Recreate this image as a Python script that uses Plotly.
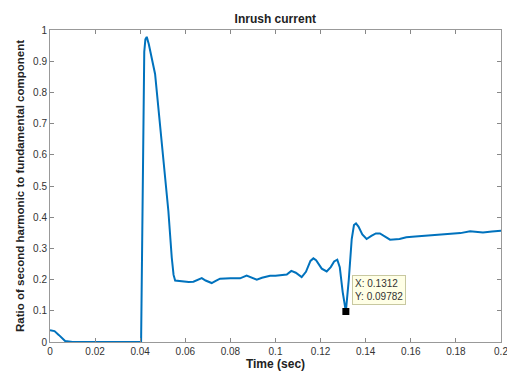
import plotly.graph_objects as go

time_s = [0, 0.002, 0.004, 0.0067, 0.01, 0.02, 0.03, 0.0404, 0.0418, 0.0423, 0.0429, 0.0438,
          0.0466, 0.0495, 0.0525, 0.054, 0.0548, 0.0555, 0.058, 0.0615, 0.0636, 0.0655, 0.0673,
          0.069, 0.0717, 0.0735, 0.0754, 0.08, 0.0843, 0.0872, 0.0895, 0.0917, 0.094, 0.0976,
          0.1, 0.103, 0.105, 0.107, 0.109, 0.1116, 0.1135, 0.1155, 0.1168, 0.118, 0.1205, 0.1227,
          0.1245, 0.126, 0.1274, 0.1285, 0.1298, 0.1312, 0.1325, 0.1338, 0.1348, 0.1357, 0.1368,
          0.1385, 0.1404, 0.1425, 0.1445, 0.1463, 0.1485, 0.1508, 0.155, 0.158, 0.162, 0.1655,
          0.1715, 0.1774, 0.182, 0.1863, 0.192, 0.196, 0.2]
ratio = [0.038, 0.035, 0.022, 0.003, 0, 0, 0, 0, 0.93, 0.97, 0.978, 0.955, 0.859, 0.644, 0.419,
         0.27, 0.215, 0.197, 0.194, 0.192, 0.193, 0.2, 0.205, 0.197, 0.189, 0.196, 0.203, 0.204,
         0.204, 0.213, 0.206, 0.2, 0.206, 0.212, 0.212, 0.213, 0.216, 0.228, 0.222, 0.208, 0.225,
         0.26, 0.268, 0.262, 0.235, 0.226, 0.24, 0.258, 0.264, 0.24, 0.16, 0.09782, 0.2, 0.33,
         0.375, 0.38, 0.37, 0.345, 0.33, 0.34, 0.348, 0.348, 0.338, 0.328, 0.33, 0.336, 0.338,
         0.34, 0.343, 0.346, 0.349, 0.355, 0.351, 0.354, 0.357]

tip_x = [0.1312]
tip_y = [0.09782]

x_ticks = [0, 0.02, 0.04, 0.06, 0.08, 0.1, 0.12, 0.14, 0.16, 0.18, 0.2]
x_labels = ["0", "0.02", "0.04", "0.06", "0.08", "0.1", "0.12", "0.14", "0.16", "0.18", "0.2"]
y_ticks = [0, 0.1, 0.2, 0.3, 0.4, 0.5, 0.6, 0.7, 0.8, 0.9, 1]
y_labels = ["0", "0.1", "0.2", "0.3", "0.4", "0.5", "0.6", "0.7", "0.8", "0.9", "1"]

FONT = "Liberation Sans, Arial, sans-serif"

fig = go.Figure()
fig.add_trace(go.Scatter(x=time_s, y=ratio, mode="lines",
                         line=dict(color="#0072BD", width=2), showlegend=False))
fig.add_trace(go.Scatter(x=tip_x, y=tip_y, mode="markers",
                         marker=dict(color="black", size=7, symbol="square"), showlegend=False))

fig.add_annotation(x=tip_x[0], y=tip_y[0], xref="x", yref="y",
                   text="X: 0.1312<br>Y: 0.09782", showarrow=False,
                   xanchor="left", yanchor="middle", xshift=6, yshift=21, align="left",
                   font=dict(family=FONT, size=10, color="#333333"),
                   bgcolor="#FFFFE6", bordercolor="#C8C8A0", borderwidth=1, borderpad=2)

axis_common = dict(showgrid=False, zeroline=False, showline=True, linecolor="#999999",
                   linewidth=1, mirror="ticks", ticks="inside", ticklen=4, tickcolor="#888888",
                   ticklabeloverflow="allow", automargin=False,
                   tickfont=dict(family=FONT, size=10, color="#333333"))

fig.update_xaxes(range=[0, 0.2], tickvals=x_ticks, ticktext=x_labels,
                 title=dict(text="<b>Time (sec)</b>", font=dict(family=FONT, size=12, color="#222222"),
                            standoff=2), **axis_common)
fig.update_yaxes(range=[0, 1], tickvals=y_ticks, ticktext=y_labels,
                 title=dict(text="<b>Ratio of second harmonic to fundamental component</b>",
                            font=dict(family=FONT, size=11.5, color="#222222"), standoff=6),
                 **axis_common)

fig.update_layout(width=507, height=374, margin=dict(l=50, r=6, t=30, b=32, autoexpand=False),
                  paper_bgcolor="white", plot_bgcolor="white",
                  title=dict(text="<b>Inrush current</b>", x=0.543, xanchor="center",
                             yref="container", y=1 - 18.5 / 374, yanchor="middle",
                             font=dict(family=FONT, size=12, color="#222222")))

fig.write_html("out.html")
